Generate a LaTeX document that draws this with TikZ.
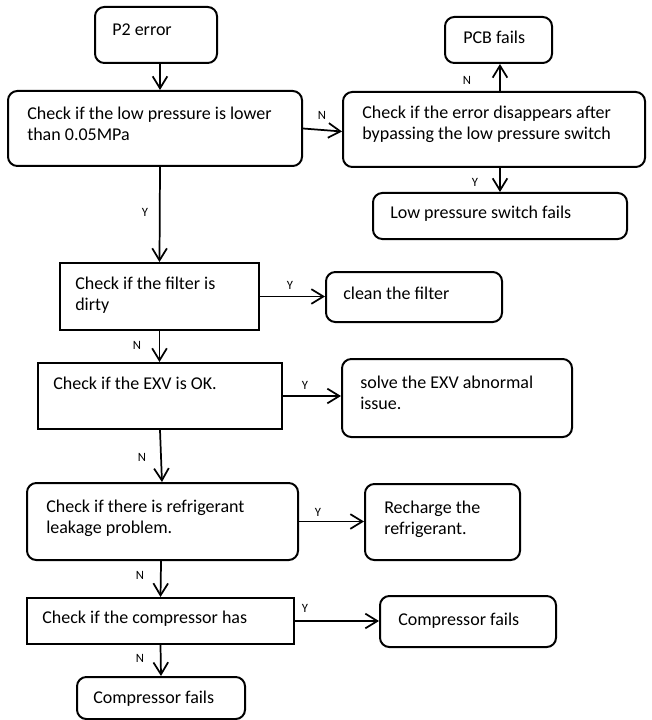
\documentclass[tikz,border=0pt]{standalone}
\usepackage{fontspec}
\setmainfont{Carlito}
\usetikzlibrary{arrows.meta,fit}
\begin{document}
\begin{tikzpicture}[x=0.75pt,y=-0.75pt,
 rbox/.style={draw, line width=1.5pt, rounded corners=7pt, inner sep=0pt},
 sbox/.style={draw, line width=1.5pt, inner sep=0pt},
 txt/.style={anchor=base west, align=left, inner sep=0pt, font=\fontsize{13.5}{15.75}\selectfont},
 lab/.style={inner sep=0pt, font=\fontsize{9.5}{10}\selectfont},
 arr/.style={line width=1.3pt, -{Straight Barb[length=9pt,width=11pt,line width=1.3pt]}}]
\useasboundingbox (0,0) rectangle (651,720);
% boxes (multi-line texts are placed by the baseline of their last line)
\node[rbox, fit={(95,7) (217,63)}] (p2) {};
\node[txt] (p2t) at (112,36) {P2 error};
\node[rbox, fit={(8,91) (302,166)}] (low) {};
\node[txt] (lowt) at (27,141) {Check if the low pressure is lower\\than 0.05MPa};
\node[rbox, fit={(343,92) (645,167)}] (bypass) {};
\node[txt] (bypasst) at (362,140) {Check if the error disappears after\\bypassing the low pressure switch};
\node[rbox, fit={(445,17) (552,63)}] (pcb) {};
\node[txt] (pcbt) at (463,44) {PCB fails};
\node[rbox, fit={(373,193) (627,239)}] (lps) {};
\node[txt] (lpst) at (390,219) {Low pressure switch fails};
\node[sbox, fit={(60,263) (259,330)}] (filter) {};
\node[txt] (filtert) at (75,310) {Check if the filter is\\dirty};
\node[rbox, fit={(326,272) (502,322)}] (clean) {};
\node[txt] (cleant) at (343,299) {clean the filter};
\node[sbox, fit={(38,363) (282,429)}] (exv) {};
\node[txt] (exvt) at (53,389) {Check if the EXV is OK.};
\node[rbox, fit={(342,359) (572,437)}] (solve) {};
\node[txt] (solvet) at (360,409) {solve the EXV abnormal\\issue.};
\node[rbox, fit={(27,483) (298,560)}] (leak) {};
\node[txt] (leakt) at (46,533) {Check if there is refrigerant\\leakage problem.};
\node[rbox, fit={(365,484) (520,560)}] (recharge) {};
\node[txt] (recharget) at (384,534) {Recharge the\\refrigerant.};
\node[sbox, fit={(27,598) (294,644)}] (comp) {};
\node[txt] (compt) at (42,623) {Check if the compressor has};
\node[rbox, fit={(380,596) (556,647)}] (compR) {};
\node[txt] (compRt) at (398,625) {Compressor fails};
\node[rbox, fit={(77,677) (245,719)}] (compB) {};
\node[txt] (compBt) at (93,703) {Compressor fails};
% connectors
\draw[arr] ([xshift=3pt]p2.south) -- ([xshift=3.75pt]low.north);
\draw[arr] (low.east) -- ([yshift=-1.5pt]bypass.west);
\draw[arr] ([xshift=4.5pt]bypass.north) -- ([xshift=1.1pt]pcb.south);
\draw[arr] ([xshift=4.5pt]bypass.south) -- (lps.north);
\draw[arr] ([xshift=3.75pt]low.south) -- (filter.north);
\draw[arr] (filter.east) -- (filter.east -| clean.west);
\draw[arr] (filter.south) -- (filter.south |- exv.north);
\draw[arr] (exv.east) -- (exv.east -| solve.west);
\draw[arr] (exv.south) -- ([xshift=-0.4pt]leak.north);
\draw[arr] (leak.east) -- (leak.east -| recharge.west);
\draw[arr] ([xshift=-1.1pt]leak.south) -- (comp.north);
\draw[arr] (comp.east) -- (comp.east -| compR.west);
\draw[arr] (comp.south) -- (compB.north);
% labels
\node[lab] (l1) at (322,115) {N};
\node[lab] (l2) at (467,80) {N};
\node[lab] (l3) at (475,182) {Y};
\node[lab] (l4) at (145,212) {Y};
\node[lab] (l5) at (290,285) {Y};
\node[lab] (l6) at (137,345) {N};
\node[lab] (l7) at (305,385) {Y};
\node[lab] (l8) at (142,457) {N};
\node[lab] (l9) at (318,512) {Y};
\node[lab] (l10) at (140,575) {N};
\node[lab] (l11) at (305,608) {Y};
\node[lab] (l12) at (140,658) {N};
\end{tikzpicture}
\end{document}
